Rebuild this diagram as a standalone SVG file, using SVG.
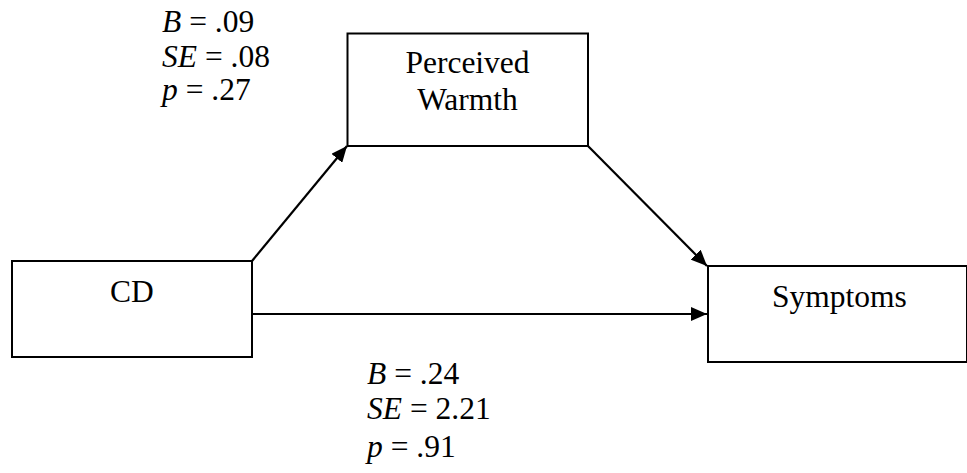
<svg xmlns="http://www.w3.org/2000/svg" width="967" height="473" viewBox="0 0 967 473">
<style>
.box{fill:#fff;stroke:#000;stroke-width:2}
text{font-family:'Liberation Serif','DejaVu Serif',serif;font-size:31.5px;fill:#000}
.c{text-anchor:middle}
.i{font-style:italic}
.conn line{stroke:#000;stroke-width:2.2}
</style>
<defs>
<marker id="ah" viewBox="0 0 16 14" refX="16" refY="7" markerWidth="16" markerHeight="14" markerUnits="userSpaceOnUse" orient="auto">
<path d="M0,0 L16,7 L0,14 Z" fill="#000"/>
</marker>
</defs>
<rect width="967" height="473" fill="#fff"/>
<g id="node-cd">
<rect class="box" x="12" y="261" width="240" height="96"/>
<text class="c" x="132" y="302">CD</text>
</g>
<g id="node-warmth">
<rect class="box" x="347.5" y="33.5" width="240.5" height="112.5"/>
<text class="c" x="467.5" y="73">Perceived</text>
<text class="c" x="467.5" y="110">Warmth</text>
</g>
<g id="node-symptoms">
<rect class="box" x="708" y="266" width="259" height="96"/>
<text class="c" x="839.5" y="307">Symptoms</text>
</g>
<g class="conn" id="connectors">
<line x1="252" y1="261" x2="347" y2="146" marker-end="url(#ah)"/>
<line x1="588" y1="146" x2="707" y2="266" marker-end="url(#ah)"/>
<line x1="252" y1="314" x2="707" y2="314" marker-end="url(#ah)"/>
</g>
<g id="label-a">
<text x="162" y="32"><tspan class="i">B</tspan> = .09</text>
<text x="162" y="67"><tspan class="i">SE</tspan> = .08</text>
<text x="162" y="100"><tspan class="i">p</tspan> = .27</text>
</g>
<g id="label-c">
<text x="367" y="384"><tspan class="i">B</tspan> = .24</text>
<text x="367" y="419"><tspan class="i">SE</tspan> = 2.21</text>
<text x="367" y="457"><tspan class="i">p</tspan> = .91</text>
</g>
</svg>
